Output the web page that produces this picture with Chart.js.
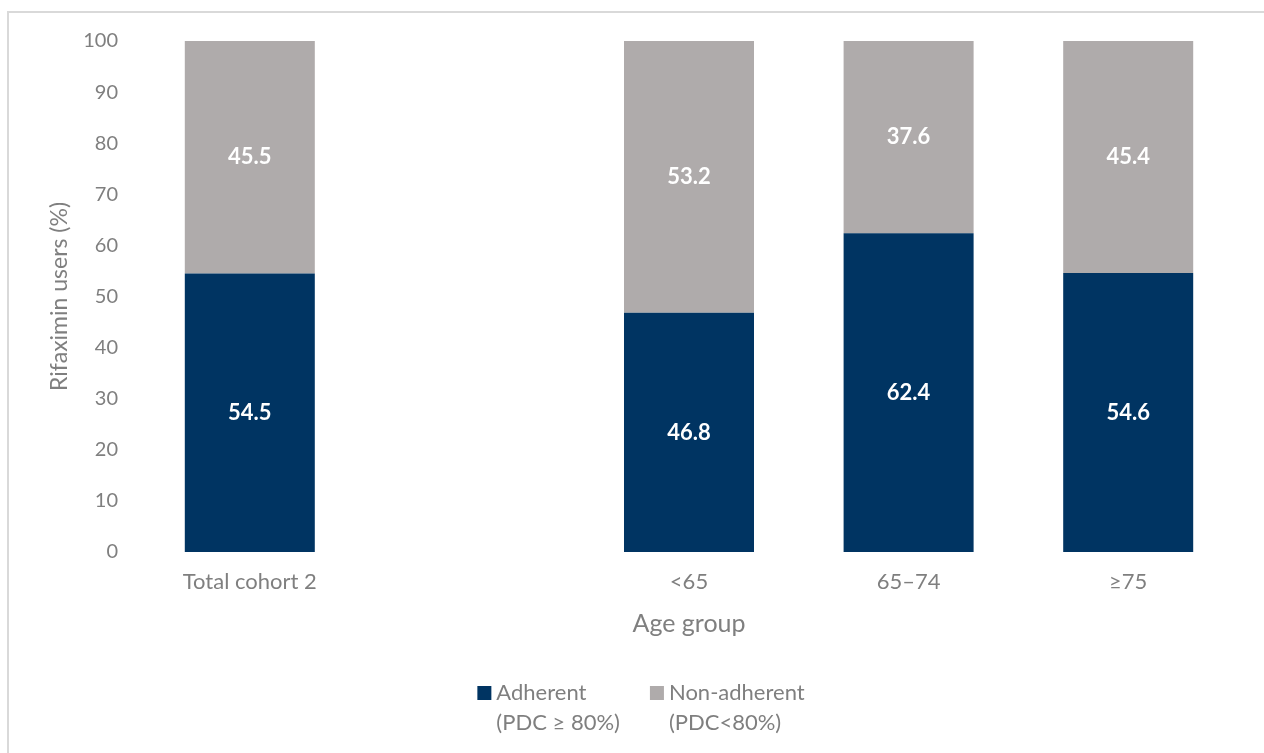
<!DOCTYPE html>
<html><head><meta charset="utf-8">
<script src="https://cdn.jsdelivr.net/npm/chart.js@4"></script>
<style>
html,body{margin:0;padding:0;background:#fff;overflow:hidden;}
#frame{position:absolute;left:7px;top:11px;width:1300px;height:800px;border:2px solid #d9d9d9;box-sizing:border-box;}
#wrap{position:absolute;left:0;top:0;width:1264px;height:753px;}
</style></head><body>
<div id="frame"></div>
<div id="wrap"><canvas id="c" width="1264" height="753"></canvas></div>
<script>
const categories = ['Total cohort 2', '', '<65', '65–74', '≥75'];
const adherent = [54.5, null, 46.8, 62.4, 54.6];
const nonAdherent = [45.5, null, 53.2, 37.6, 45.4];
const seriesNames = ['Adherent (PDC ≥ 80%)', 'Non-adherent (PDC<80%)'];
const legendLines = [['Adherent', '(PDC ≥ 80%)'], ['Non-adherent', '(PDC<80%)']];
const yTitle = 'Rifaximin users (%)';
const xTitle = 'Age group';

const FONT = 'Lato';
const TEXT = '#7f7f7f';
const NAVY = '#003462';
const GREY = '#afabab';

const valueLabels = {
  id: 'valueLabels',
  afterDatasetsDraw(chart) {
    const ctx = chart.ctx;
    ctx.save();
    ctx.font = 'bold 22px ' + FONT;
    ctx.fillStyle = '#ffffff';
    ctx.textAlign = 'center';
    ctx.textBaseline = 'middle';
    chart.data.datasets.forEach((ds, di) => {
      const meta = chart.getDatasetMeta(di);
      meta.data.forEach((bar, i) => {
        const v = ds.data[i];
        if (v === null || v === undefined) return;
        const p = bar.getProps(['x', 'y', 'base'], true);
        ctx.fillText(v.toFixed(1), p.x, (p.y + p.base) / 2);
      });
    });
    ctx.restore();
  }
};

const customLegend = {
  id: 'customLegend',
  afterDraw(chart) {
    const ctx = chart.ctx;
    ctx.save();
    ctx.font = '22px ' + FONT;
    const box = 14, gap = 5, itemGap = 30, lineH = 30;
    const items = chart.data.datasets.map((ds, i) => ({ color: ds.backgroundColor, lines: legendLines[i] }));
    const widths = items.map(it => box + gap + Math.max(...it.lines.map(l => ctx.measureText(l).width)));
    const total = widths.reduce((a, b) => a + b, 0) + itemGap * (items.length - 1);
    let x = 641 - total / 2;
    const y0 = chart.scales.x.bottom + 51;
    ctx.textBaseline = 'middle';
    ctx.textAlign = 'left';
    items.forEach((it, i) => {
      ctx.fillStyle = it.color;
      ctx.fillRect(x, y0 - 7, box, box);
      ctx.fillStyle = TEXT;
      it.lines.forEach((l, k) => ctx.fillText(l, x + box + gap, y0 + k * lineH));
      x += widths[i] + itemGap;
    });
    ctx.restore();
  }
};

new Chart(document.getElementById('c'), {
  type: 'bar',
  data: {
    labels: categories,
    datasets: [
      { label: seriesNames[0], data: adherent, backgroundColor: NAVY, categoryPercentage: 1, barPercentage: 0.592 },
      { label: seriesNames[1], data: nonAdherent, backgroundColor: GREY, categoryPercentage: 1, barPercentage: 0.592 }
    ]
  },
  options: {
    responsive: false,
    animation: false,
    devicePixelRatio: 1,
    layout: { padding: { left: 0, right: 26, top: 41, bottom: 111 } },
    plugins: { legend: { display: false }, tooltip: { enabled: false } },
    scales: {
      x: {
        stacked: true,
        grid: { display: false, drawTicks: false },
        border: { display: false },
        ticks: { color: TEXT, font: { family: FONT, size: 22 }, padding: 17, maxRotation: 0, autoSkip: false },
        title: { display: true, text: xTitle, color: TEXT, font: { family: FONT, size: 25 }, padding: { top: 0, bottom: 3 } },
        afterFit(s) { s.height = 90; }
      },
      y: {
        stacked: true,
        min: 0, max: 100,
        grid: { display: false, drawTicks: false },
        border: { display: false },
        ticks: { stepSize: 10, color: TEXT, font: { family: FONT, size: 20 }, padding: 22 },
        title: { display: true, text: yTitle, color: TEXT, font: { family: FONT, size: 23 }, padding: { top: 46, bottom: 0 } },
        afterFit(s) { s.width = 140; }
      }
    }
  },
  plugins: [valueLabels, customLegend]
});
</script>
</body></html>
